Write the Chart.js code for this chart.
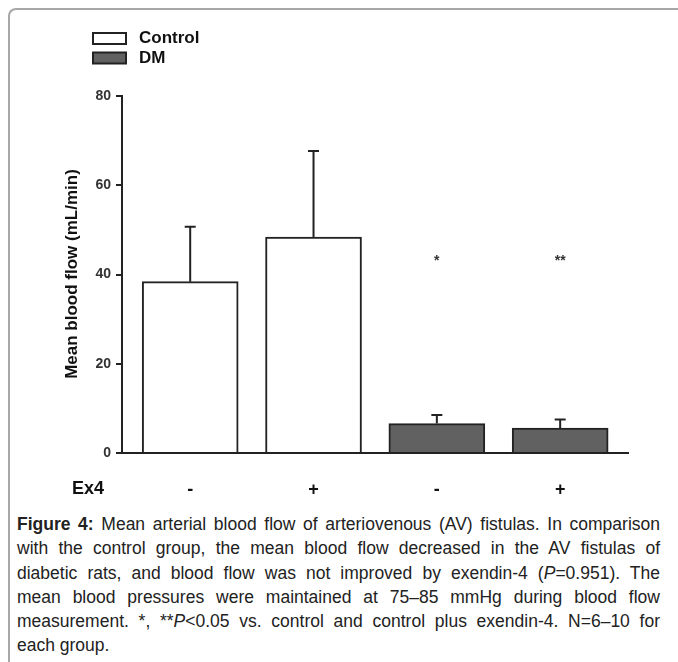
<!DOCTYPE html>
<html>
<head>
<meta charset="utf-8">
<script src="https://cdn.jsdelivr.net/npm/chart.js@4.4.1/dist/chart.umd.min.js"></script>
<style>
  html, body { margin: 0; padding: 0; background: #fff; }
  body { width: 678px; height: 662px; position: relative; overflow: hidden; }
  .frame {
    position: absolute; left: 8px; top: 8px; right: -10px; bottom: -10px;
    border-top: 2px solid #a8a8a8; border-left: 2px solid #a8a8a8;
    border-top-left-radius: 8px;
  }
  #wrap { position: absolute; left: 0; top: 0; width: 678px; height: 500px; }
  .caption {
    position: absolute; left: 17px; top: 512px; width: 643px;
    transform-origin: 0 0;
    font-family: "Liberation Sans", Arial, sans-serif;
    font-size: 17.5px; line-height: 24.3px; color: #222;
  }
  .caption .ln { white-space: nowrap; text-align: justify; text-align-last: justify; }
  .caption .ln.last { text-align-last: left; }
</style>
</head>
<body>
<div class="frame"></div>
<div id="wrap"><canvas id="chart" width="678" height="500"></canvas></div>
<div class="caption" id="caption">
  <div class="ln"><b>Figure 4:</b> Mean arterial blood flow of arteriovenous (AV) fistulas. In comparison</div>
  <div class="ln">with the control group, the mean blood flow decreased in the AV fistulas of</div>
  <div class="ln">diabetic rats, and blood flow was not improved by exendin-4 (<i>P</i>=0.951). The</div>
  <div class="ln">mean blood pressures were maintained at 75–85 mmHg during blood flow</div>
  <div class="ln">measurement. *, **<i>P</i>&lt;0.05 vs. control and control plus exendin-4. N=6–10 for</div>
  <div class="ln last">each group.</div>
</div>
<script>
// ---- data ----
const groups = ['Control', 'Control', 'DM', 'DM'];
const ex4Labels = ['-', '+', '-', '+'];
const meanFlow = [38.4, 48.4, 6.6, 5.6];
const semFlow = [12.3, 19.3, 1.9, 1.9];
const sigMarks = ['', '', '*', '**'];
const sigLevel = 44.2;
const yTicks = [0, 20, 40, 60, 80];

const groupColors = { Control: '#ffffff', DM: '#616161' };
const INK = '#222';

function pointsFor(name) {
  const pts = [];
  groups.forEach((g, i) => { if (g === name) pts.push({ x: i, y: meanFlow[i] }); });
  return pts;
}

// error bars, significance marks, legend, Ex4 row label, y title
const extras = {
  id: 'extras',
  afterDatasetsDraw(chart) {
    const { ctx, scales: { x, y } } = chart;
    ctx.save();
    ctx.strokeStyle = INK;
    ctx.lineWidth = 2;
    meanFlow.forEach((m, i) => {
      const px = x.getPixelForValue(i);
      const y0 = y.getPixelForValue(m);
      const y1 = y.getPixelForValue(m + semFlow[i]);
      ctx.beginPath();
      ctx.moveTo(px, y0); ctx.lineTo(px, y1);
      ctx.moveTo(px - 5.5, y1); ctx.lineTo(px + 5.5, y1);
      ctx.stroke();
    });
    // asterisks
    ctx.fillStyle = '#333';
    ctx.font = 'bold 14px "Liberation Sans", Arial, sans-serif';
    ctx.textAlign = 'center';
    ctx.textBaseline = 'alphabetic';
    sigMarks.forEach((s, i) => {
      if (!s) return;
      ctx.fillText(s, x.getPixelForValue(i), y.getPixelForValue(sigLevel) + 9);
    });
    ctx.restore();
  },
  afterDraw(chart) {
    const { ctx } = chart;
    ctx.save();
    // legend
    ctx.font = 'bold 17px "Liberation Sans", Arial, sans-serif';
    ctx.textBaseline = 'middle';
    ctx.textAlign = 'left';
    chart.data.datasets.forEach((ds, k) => {
      const top = 33 + k * 19.5;
      ctx.fillStyle = ds.backgroundColor;
      ctx.fillRect(93, top, 33, 11);
      ctx.strokeStyle = INK;
      ctx.lineWidth = 2;
      ctx.strokeRect(93, top, 33, 11);
      ctx.fillStyle = '#111';
      ctx.fillText(ds.label, 139, top + 5.5);
    });
    // Ex4 row label
    ctx.font = 'bold 18px "Liberation Sans", Arial, sans-serif';
    ctx.fillText('Ex4', 72, 489);
    // y axis title
    ctx.translate(72, 274);
    ctx.rotate(-Math.PI / 2);
    ctx.textAlign = 'center';
    ctx.font = 'bold 17px "Liberation Sans", Arial, sans-serif';
    ctx.fillText('Mean blood flow (mL/min)', 0, 0);
    ctx.restore();
  }
};

new Chart(document.getElementById('chart'), {
  type: 'bar',
  data: {
    datasets: ['Control', 'DM'].map(name => ({
      label: name,
      data: pointsFor(name),
      backgroundColor: groupColors[name],
      borderColor: INK,
      borderWidth: 2,
      borderSkipped: 'bottom',
      barThickness: 96,
      grouped: false
    }))
  },
  options: {
    responsive: false,
    animation: false,
    layout: { padding: { left: 0, right: 50, top: 96, bottom: 0 } },
    plugins: { legend: { display: false }, tooltip: { enabled: false } },
    scales: {
      x: {
        type: 'linear',
        offset: false,
        min: -0.553,
        max: 3.55,
        afterBuildTicks: (s) => { s.ticks = ex4Labels.map((_, i) => ({ value: i })); },
        afterFit: (s) => { s.height = 47; },
        grid: { display: false, drawTicks: false, offset: false },
        border: { display: true, color: INK, width: 2 },
        ticks: {
          padding: 26,
          color: '#111',
          font: { family: '"Liberation Sans", Arial, sans-serif', size: 18, weight: 'bold' },
          callback: (v) => ex4Labels[v] ?? ''
        }
      },
      y: {
        min: 0,
        max: 80,
        afterBuildTicks: (s) => { s.ticks = yTicks.map(v => ({ value: v })); },
        afterFit: (s) => { s.width = 122; },
        grid: { drawOnChartArea: false, drawTicks: true, tickLength: 6, color: INK, lineWidth: 2 },
        border: { display: true, color: INK, width: 2 },
        ticks: {
          padding: 5,
          color: '#333',
          font: { family: '"Liberation Sans", Arial, sans-serif', size: 14, weight: 'bold' }
        }
      }
    }
  },
  plugins: [extras]
});

// the original caption uses a condensed face: squeeze horizontally so the
// longest line just fills the 643px column, then justify the rest
(function fitCaption() {
  const cap = document.getElementById('caption');
  const lines = [...cap.querySelectorAll('.ln')];
  const probe = document.createElement('span');
  probe.style.whiteSpace = 'nowrap';
  cap.appendChild(probe);
  let widest = 0;
  lines.forEach(el => {
    probe.innerHTML = el.innerHTML;
    widest = Math.max(widest, probe.getBoundingClientRect().width);
  });
  cap.removeChild(probe);
  const colW = 643;
  const s = Math.min(1, colW / (widest * 0.985));
  cap.style.width = (colW / s) + 'px';
  cap.style.transform = 'scaleX(' + s + ')';
  lines.forEach(el => {
    let ws = 0;
    while (el.scrollWidth > el.clientWidth + 0.5 && ws > -4) {
      ws -= 0.25;
      el.style.wordSpacing = ws + 'px';
    }
  });
})();
</script>
</body>
</html>
